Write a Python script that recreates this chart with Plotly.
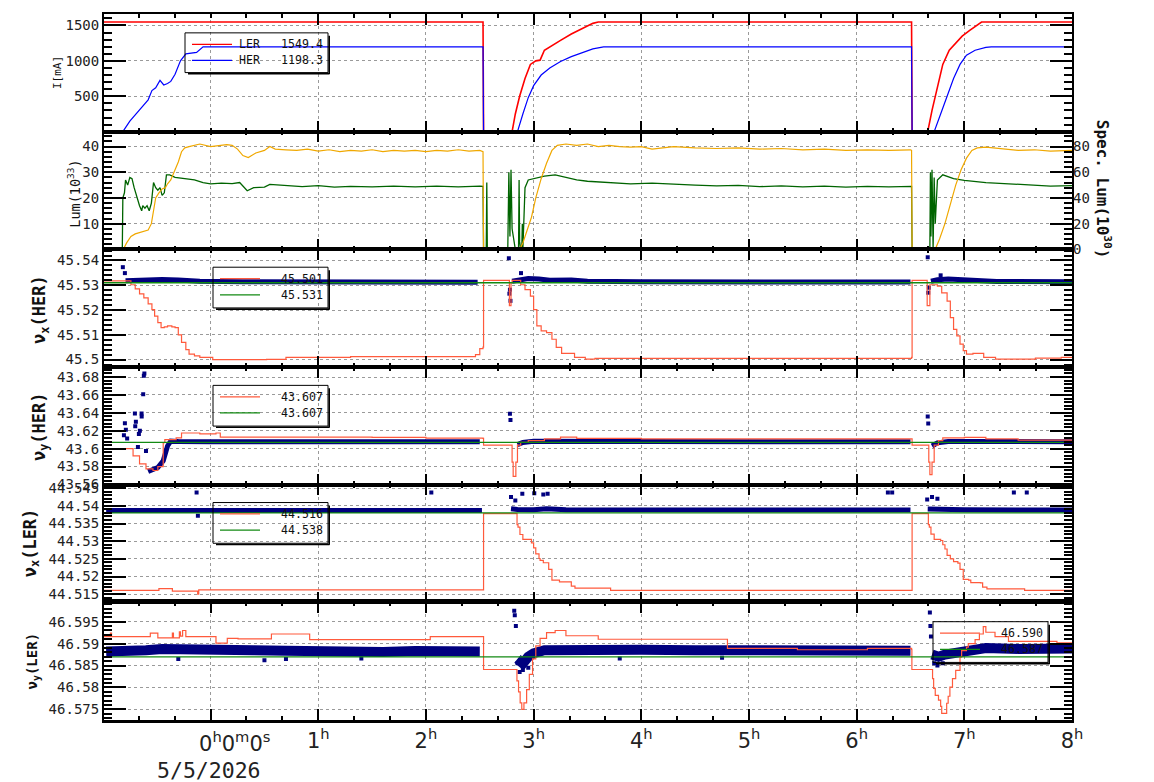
import plotly.graph_objects as go

# ---------------- DATA (time in hours from 0h0m0s 5/5/2026) ----------------
# Panel 1: beam currents I [mA]
ler_current = [(-0.99, 1549), (2.530, 1549), (2.535, 0), (2.800, 0), (2.830, 250), (2.870, 500),
               (2.920, 750), (2.970, 950), (3.020, 1000), (3.060, 1010), (3.100, 1150), (3.150, 1200),
               (3.250, 1290), (3.350, 1380), (3.450, 1450), (3.550, 1530), (3.600, 1549), (6.510, 1549),
               (6.515, 0), (6.660, 0), (6.700, 300), (6.750, 650), (6.800, 950), (6.860, 1150),
               (6.920, 1250), (6.980, 1350), (7.050, 1430), (7.120, 1500), (7.160, 1549), (8.000, 1549)]
her_current = [(-0.99, 0), (-0.815, 0), (-0.75, 150), (-0.68, 270), (-0.62, 380), (-0.58, 450),
               (-0.545, 580), (-0.51, 620), (-0.47, 725), (-0.435, 660), (-0.40, 680), (-0.37, 710),
               (-0.33, 810), (-0.28, 1000), (-0.23, 1100), (-0.13, 1120), (-0.07, 1198), (2.53, 1198),
               (2.535, 0), (2.85, 0), (2.90, 250), (2.95, 480), (3.00, 650), (3.07, 800), (3.15, 900),
               (3.25, 990), (3.35, 1060), (3.45, 1120), (3.55, 1170), (3.65, 1198), (6.51, 1198),
               (6.515, 0), (6.72, 0), (6.78, 250), (6.84, 500), (6.90, 750), (6.96, 950), (7.02, 1080),
               (7.10, 1150), (7.20, 1190), (7.25, 1198), (8.0, 1198)]
cur_legend_names = ["LER", "HER"]
cur_legend_values = ["1549.4", "1198.3"]

# Panel 2: luminosity Lum (10^33, left) and specific luminosity (10^30, right)
lum = [(-0.99, 0), (-0.82, 0), (-0.815, 20), (-0.80, 22), (-0.79, 27), (-0.77, 25), (-0.75, 28),
       (-0.73, 27.5), (-0.71, 24), (-0.69, 21), (-0.66, 17), (-0.64, 15), (-0.63, 17), (-0.61, 16),
       (-0.59, 17), (-0.57, 15), (-0.55, 18), (-0.53, 26), (-0.51, 24), (-0.49, 23), (-0.47, 24),
       (-0.45, 21), (-0.43, 22), (-0.41, 29), (-0.38, 29), (-0.33, 28), (-0.25, 27.5), (-0.15, 27),
       (-0.07, 26), (0.0, 25.5), (0.1, 25.8), (0.2, 25.6), (0.27, 26), (0.32, 24), (0.34, 22.8),
       (0.4, 24), (0.5, 24.2), (0.55, 25.3), (0.7, 24.8), (0.85, 24.4), (1.0, 24.8), (1.15, 24.2),
       (1.3, 24.5), (1.5, 24.3), (1.7, 24.6), (1.9, 24.3), (2.1, 24.6), (2.3, 24.3), (2.5, 24.6),
       (2.53, 24.5), (2.535, 0), (2.56, 0), (2.565, 26), (2.57, 0), (2.76, 0), (2.77, 30), (2.78, 5),
       (2.79, 31), (2.80, 8), (2.83, 0), (2.86, 0), (2.865, 27), (2.87, 3), (2.88, 0), (2.89, 0),
       (2.895, 10), (2.90, 0), (2.92, 24), (2.95, 27), (3.0, 27.5), (3.1, 28.5), (3.2, 29), (3.3, 28),
       (3.4, 27), (3.5, 26.5), (3.7, 26), (3.9, 25.5), (4.1, 25.8), (4.3, 25.3), (4.5, 25), (4.7, 24.7),
       (4.9, 24.9), (5.1, 24.4), (5.3, 24.7), (5.5, 24.3), (5.7, 24.6), (5.9, 24.2), (6.1, 24.5),
       (6.3, 24.3), (6.5, 24.6), (6.51, 24.5), (6.515, 0), (6.68, 0), (6.685, 30), (6.69, 5), (6.70, 31),
       (6.71, 0), (6.72, 28), (6.73, 10), (6.75, 27), (6.8, 29), (6.9, 27.5), (7.0, 26.8), (7.2, 26),
       (7.4, 25.5), (7.6, 25), (7.8, 24.6), (8.0, 24.8)]
spec_lum = [(-0.99, 0), (-0.81, 0), (-0.78, 5), (-0.74, 10), (-0.70, 12), (-0.66, 13), (-0.62, 14),
            (-0.58, 15), (-0.55, 20), (-0.53, 30), (-0.51, 40), (-0.48, 44), (-0.45, 47), (-0.42, 48),
            (-0.40, 51), (-0.37, 54), (-0.33, 62), (-0.30, 68), (-0.27, 76), (-0.24, 79), (-0.2, 80),
            (-0.15, 81), (-0.1, 82), (0.0, 80), (0.1, 81), (0.15, 81.5), (0.2, 81), (0.25, 78), (0.3, 73),
            (0.35, 71.5), (0.42, 75), (0.5, 77), (0.55, 80), (0.6, 78), (0.7, 77.5), (0.8, 77), (0.9, 78),
            (1.0, 76.5), (1.1, 77.5), (1.2, 76), (1.3, 77), (1.4, 76.5), (1.5, 77.5), (1.6, 76), (1.7, 77),
            (1.8, 76.5), (1.9, 77), (2.0, 76), (2.1, 77), (2.2, 76.5), (2.3, 77.5), (2.4, 76.5), (2.5, 77),
            (2.53, 76), (2.535, 0), (2.87, 0), (2.90, 5), (2.94, 15), (2.98, 25), (3.02, 40), (3.07, 55),
            (3.12, 67), (3.17, 77), (3.22, 81), (3.3, 82), (3.4, 81), (3.5, 82), (3.6, 80), (3.7, 81),
            (3.8, 80), (3.9, 79.5), (4.0, 80), (4.1, 78), (4.2, 79), (4.3, 80), (4.5, 79), (4.7, 78.5),
            (4.9, 79), (5.1, 78), (5.3, 78.5), (5.5, 77.5), (5.7, 78), (5.9, 77), (6.1, 77.5), (6.3, 77),
            (6.5, 77.5), (6.51, 77), (6.515, 0), (6.73, 0), (6.77, 8), (6.82, 20), (6.87, 35), (6.92, 50),
            (6.97, 62), (7.02, 71), (7.07, 77), (7.12, 79), (7.2, 79.5), (7.35, 78), (7.5, 77), (7.65, 77.5),
            (7.8, 76.5), (8.0, 77)]

# Panel 3: nu_x (HER)
nux_her_set = [(-0.99, 45.5318), (-0.77, 45.5318), (-0.74, 45.5302), (-0.70, 45.5285), (-0.66, 45.5265),
               (-0.62, 45.5249), (-0.58, 45.5225), (-0.545, 45.5202), (-0.52, 45.5175), (-0.49, 45.5149),
               (-0.46, 45.5129), (-0.43, 45.5132), (-0.40, 45.5136), (-0.36, 45.5132), (-0.33, 45.5129),
               (-0.30, 45.5100), (-0.27, 45.5069), (-0.23, 45.5040), (-0.20, 45.5022), (-0.15, 45.5015),
               (-0.10, 45.5009), (0.02, 45.5000), (0.52, 45.5001), (0.70, 45.5009), (1.30, 45.5012),
               (2.40, 45.5012), (2.46, 45.5020), (2.50, 45.5044), (2.53, 45.5050), (2.535, 45.5320),
               (2.77, 45.5320), (2.775, 45.5218), (2.79, 45.5310), (2.80, 45.5320), (2.85, 45.5320),
               (2.88, 45.5302), (2.92, 45.5282), (2.97, 45.5256), (3.00, 45.5202), (3.03, 45.5136),
               (3.07, 45.5116), (3.12, 45.5109), (3.17, 45.5082), (3.21, 45.5049), (3.26, 45.5025),
               (3.35, 45.5025), (3.38, 45.5009), (3.48, 45.5002), (3.57, 45.5005), (6.51, 45.5009),
               (6.515, 45.5320), (6.65, 45.5320), (6.655, 45.5218), (6.68, 45.5302), (6.73, 45.5302),
               (6.75, 45.5296), (6.79, 45.5269), (6.84, 45.5236), (6.87, 45.5169), (6.90, 45.5122),
               (6.93, 45.5096), (6.96, 45.5062), (6.99, 45.5036), (7.02, 45.5022), (7.08, 45.5025),
               (7.18, 45.5009), (7.29, 45.5002), (7.66, 45.5006), (7.90, 45.5009), (8.0, 45.5009)]
nux_her_ref = 45.531
nux_her_meas = [(-0.79, 45.5318), (-0.7, 45.532), (-0.6, 45.5323), (-0.45, 45.5323), (-0.3, 45.5321),
                (-0.1, 45.5316), (0.3, 45.5314), (0.8, 45.5313), (1.5, 45.5314), (2.0, 45.5313),
                (2.48, 45.5312), (2.49, None), (2.80, 45.5316), (2.86, 45.5322), (2.95, 45.5327),
                (3.05, 45.5325), (3.15, 45.532), (3.35, 45.5321), (3.5, 45.5316), (4.0, 45.5314),
                (5.0, 45.5313), (6.0, 45.5313), (6.5, 45.5313), (6.51, None), (6.69, 45.5316),
                (6.75, 45.5322), (6.85, 45.5325), (6.95, 45.5323), (7.1, 45.5318), (7.3, 45.5315),
                (8.0, 45.5314)]
nux_her_out = [(-0.815, 45.5373), (-0.796, 45.5349), (2.77, 45.5409), (2.883, 45.5349), (2.78, 45.5282),
               (2.775, 45.5266), (2.785, 45.5237), (6.66, 45.5413), (6.78, 45.5340), (6.665, 45.5270),
               (6.67, 45.5290)]
nux_her_legend = ["45.501", "45.531"]

# Panel 4: nu_y (HER)
nuy_her_set = [(-0.99, 43.600), (-0.78, 43.600), (-0.72, 43.592), (-0.66, 43.583), (-0.60, 43.5775),
               (-0.535, 43.5756), (-0.49, 43.580), (-0.44, 43.6066), (-0.425, 43.610), (-0.32, 43.612),
               (-0.27, 43.6175), (-0.10, 43.6165), (0.05, 43.6175), (0.09, 43.6128), (1.5, 43.6125),
               (2.0, 43.6117), (2.53, 43.6115), (2.535, 43.604), (2.79, 43.604), (2.80, 43.585),
               (2.81, 43.569), (2.835, 43.585), (2.85, 43.604), (2.88, 43.607), (2.95, 43.609),
               (3.1, 43.611), (3.25, 43.613), (3.4, 43.6115), (4.0, 43.611), (6.51, 43.611),
               (6.515, 43.604), (6.66, 43.604), (6.67, 43.585), (6.68, 43.571), (6.70, 43.585),
               (6.72, 43.604), (6.76, 43.609), (6.8, 43.612), (7.0, 43.6125), (7.2, 43.611),
               (7.5, 43.6095), (8.0, 43.6095)]
nuy_her_ref = 43.607
nuy_her_meas = [(-0.58, 43.5745), (-0.535, 43.5765), (-0.49, 43.579), (-0.44, 43.5865), (-0.40, 43.603),
                (-0.37, 43.6084), (-0.3, 43.608), (0.0, 43.6078), (0.5, 43.6077), (1.0, 43.6077),
                (1.5, 43.6078), (2.0, 43.6077), (2.5, 43.6077), (2.51, None), (2.85, 43.6045),
                (2.9, 43.607), (3.0, 43.6082), (3.5, 43.6079), (4.5, 43.6079), (5.5, 43.6078),
                (6.5, 43.6077), (6.51, None), (6.70, 43.603), (6.75, 43.6065), (6.85, 43.608),
                (7.2, 43.6078), (8.0, 43.6078)]
nuy_her_out = [(-0.796, 43.6285), (-0.787, 43.621), (-0.805, 43.615), (-0.775, 43.6114), (-0.703, 43.6394),
               (-0.694, 43.630), (-0.70, 43.625), (-0.675, 43.602), (-0.666, 43.6164), (-0.657, 43.620),
               (-0.641, 43.6394), (-0.64, 43.636), (-0.62, 43.6815), (-0.615, 43.684), (-0.626, 43.6607),
               (-0.60, 43.5975), (2.78, 43.639), (2.785, 43.632), (6.66, 43.636), (6.665, 43.628)]
nuy_her_legend = ["43.607", "43.607"]

# Panel 5: nu_x (LER)
nux_ler_set = [(-0.99, 44.5161), (-0.48, 44.5166), (-0.355, 44.5159), (-0.12, 44.5150), (-0.11, 44.5162),
               (2.53, 44.5162), (2.535, 44.5378), (2.84, 44.5378), (2.846, 44.5347), (2.855, 44.5340),
               (2.873, 44.5319), (2.90, 44.5305), (2.96, 44.5305), (2.98, 44.5295), (3.00, 44.5281),
               (3.02, 44.5264), (3.05, 44.5251), (3.06, 44.5246), (3.09, 44.5239), (3.13, 44.5239),
               (3.14, 44.5220), (3.17, 44.5190), (3.23, 44.5190), (3.24, 44.5185), (3.34, 44.5185),
               (3.35, 44.5173), (3.384, 44.5167), (3.709, 44.5167), (3.715, 44.5161), (6.51, 44.5161),
               (6.515, 44.5378), (6.66, 44.5378), (6.666, 44.5347), (6.675, 44.5340), (6.69, 44.5320),
               (6.72, 44.5305), (6.78, 44.5302), (6.80, 44.5290), (6.82, 44.5278), (6.84, 44.5260),
               (6.87, 44.5250), (6.90, 44.5242), (6.94, 44.5238), (6.96, 44.5220), (6.99, 44.5192),
               (7.04, 44.5190), (7.06, 44.5183), (7.15, 44.5182), (7.17, 44.5170), (7.21, 44.5165),
               (7.55, 44.5165), (7.56, 44.5161), (8.0, 44.5161)]
nux_ler_ref = 44.538
nux_ler_meas = [(-0.97, 44.5387), (0.0, 44.5387), (1.0, 44.5388), (2.0, 44.5387), (2.52, 44.5387),
                (2.53, None), (2.79, 44.5392), (2.85, 44.5390), (3.0, 44.5389), (3.12, 44.5392),
                (3.3, 44.5389), (4.5, 44.5388), (6.5, 44.5388), (6.51, None), (6.66, 44.5391),
                (6.8, 44.5390), (7.0, 44.5389), (8.0, 44.5388)]
nux_ler_out = [(-0.13, 44.5438), (-0.118, 44.5372), (2.05, 44.5438), (6.29, 44.5438), (6.33, 44.5438),
               (7.46, 44.5438), (7.58, 44.5438), (2.79, 44.5425), (2.83, 44.5415), (2.895, 44.5434),
               (3.006, 44.5436), (3.09, 44.5432), (3.13, 44.5434), (6.655, 44.5418), (6.70, 44.5425),
               (6.75, 44.5420)]
nux_ler_legend = ["44.516", "44.538"]

# Panel 6: nu_y (LER)
nuy_ler_set = [(-0.99, 46.5916), (-0.93, 46.5924), (-0.92, 46.5916), (-0.56, 46.5924), (-0.49, 46.5913),
               (-0.355, 46.5924), (-0.345, 46.5913), (-0.29, 46.5927), (-0.28, 46.5917), (-0.26, 46.5930),
               (-0.23, 46.5916), (0.05, 46.5901), (0.155, 46.5912), (0.255, 46.5911), (0.47, 46.5911),
               (0.565, 46.5922), (0.92, 46.5909), (2.04, 46.5916), (2.53, 46.5916), (2.535, 46.5841),
               (2.83, 46.5841), (2.845, 46.5815), (2.86, 46.5790), (2.875, 46.5765), (2.89, 46.5750),
               (2.91, 46.5765), (2.935, 46.5795), (2.96, 46.5830), (2.99, 46.5865), (3.02, 46.5895),
               (3.06, 46.5912), (3.12, 46.5925), (3.20, 46.5930), (3.3, 46.5918), (3.6, 46.5910),
               (4.8, 46.5889), (5.45, 46.5886), (6.1, 46.5889), (6.51, 46.5887), (6.513, 46.5841),
               (6.705, 46.5820), (6.715, 46.5798), (6.73, 46.5782), (6.76, 46.5771), (6.78, 46.5757),
               (6.79, 46.5741), (6.836, 46.5764), (6.85, 46.5780), (6.866, 46.5801), (6.89, 46.5820),
               (6.92, 46.5839), (6.96, 46.5869), (6.975, 46.5884), (7.02, 46.5892), (7.037, 46.5900),
               (7.10, 46.5909), (7.14, 46.5922), (7.176, 46.5939), (7.20, 46.5926), (7.285, 46.5916),
               (7.41, 46.5905), (7.86, 46.5902), (8.0, 46.5902)]
nuy_ler_ref = 46.587
nuy_ler_meas = [(-0.97, 46.5882), (-0.8, 46.5881), (-0.6, 46.5885), (-0.45, 46.5888), (-0.3, 46.5887),
                (-0.1, 46.5884), (0.1, 46.5882), (0.4, 46.5885), (0.7, 46.5884), (1.0, 46.5882),
                (1.3, 46.5883), (1.6, 46.5881), (1.9, 46.5883), (2.2, 46.5882), (2.5, 46.5882),
                (2.51, None), (2.85, 46.5865), (2.9, 46.5855), (2.95, 46.5870), (3.0, 46.5878),
                (3.1, 46.5885), (3.3, 46.5886), (3.6, 46.5888), (4.0, 46.5886), (4.5, 46.5885),
                (5.0, 46.5885), (5.5, 46.5884), (6.0, 46.5884), (6.5, 46.5884), (6.51, None),
                (6.70, 46.5875), (6.76, 46.5870), (6.82, 46.5875), (6.9, 46.5878), (7.0, 46.5887),
                (7.2, 46.5890), (7.5, 46.5888), (8.0, 46.5889)]
nuy_ler_out = [(2.82, 46.5975), (2.825, 46.5965), (2.835, 46.5940), (2.85, 46.5855), (2.87, 46.5835),
               (2.90, 46.5840), (2.95, 46.5845), (6.68, 46.5971), (6.685, 46.5940), (6.69, 46.5916),
               (6.72, 46.5855), (6.75, 46.5850), (6.80, 46.5855), (-0.3, 46.5865), (0.5, 46.5862),
               (0.7, 46.5865), (1.4, 46.5866), (3.8, 46.5866), (4.75, 46.5868)]
nuy_ler_legend = ["46.590", "46.587"]

# Axis ticks
hour_ticks = [0, 1, 2, 3, 4, 5, 6, 7, 8]
hour_labels = ["", "1<sup>h</sup>", "2<sup>h</sup>", "3<sup>h</sup>", "4<sup>h</sup>", "5<sup>h</sup>",
               "6<sup>h</sup>", "7<sup>h</sup>", "8<sup>h</sup>"]
cur_ticks = [500, 1000, 1500]
lum_ticks = [10, 20, 30, 40]
slum_ticks = [0, 20, 40, 60, 80]
nux_her_ticks = [45.50, 45.51, 45.52, 45.53, 45.54]
nux_her_labels = ["45.5", "45.51", "45.52", "45.53", "45.54"]
nuy_her_ticks = [43.56, 43.58, 43.60, 43.62, 43.64, 43.66, 43.68]
nuy_her_labels = ["43.56", "43.58", "43.6", "43.62", "43.64", "43.66", "43.68"]
nux_ler_ticks = [44.515, 44.520, 44.525, 44.530, 44.535, 44.540, 44.545]
nux_ler_labels = ["44.515", "44.52", "44.525", "44.53", "44.535", "44.54", "44.545"]
nuy_ler_ticks = [46.575, 46.580, 46.585, 46.590, 46.595]
nuy_ler_labels = ["46.575", "46.58", "46.585", "46.59", "46.595"]

# ---------------- STYLE ----------------
W, H = 1154, 782
L, R, TOP, BOT = 104, 82, 9, 62
PW, PH = W - L - R, H - TOP - BOT
T_RANGE = [-0.99, 8.0]
NAVY = "#00007f"
TUNE_RED = "#ff5a3c"
TUNE_GREEN = "#138a13"
GRID = "#9a9a9a"
MONO = "DejaVu Sans Mono"
TICKFONT = dict(family=MONO, size=14, color="#222")


def split(pts):
    return [p[0] for p in pts], [p[1] for p in pts]


def px_x(px):
    return (px - L) / PW


def px_y(py):
    return (H - BOT - py) / PH


fig = go.Figure()


def axes(k):
    return ("x" if k == 1 else f"x{k}"), ("y" if k == 1 else f"y{k}")


def add_line(pts, color, width, k, shape="linear", yaxis=None):
    x, y = split(pts)
    xa, ya = axes(k)
    fig.add_trace(go.Scatter(x=x, y=y, mode="lines", line=dict(color=color, width=width, shape=shape),
                             xaxis=xa, yaxis=yaxis or ya, showlegend=False, connectgaps=False,
                             hoverinfo="skip"))


def add_pts(pts, k, size=4):
    x, y = split(pts)
    xa, ya = axes(k)
    fig.add_trace(go.Scatter(x=x, y=y, mode="markers", marker=dict(symbol="square", size=size, color=NAVY,
                             line=dict(width=0)), xaxis=xa, yaxis=ya, showlegend=False, hoverinfo="skip"))


# Panel 1
add_line(ler_current, "#ff0000", 1.6, 1)
add_line(her_current, "#0000ff", 1.2, 1)
# Panel 2
add_line(spec_lum, "#f0a800", 1.2, 2, yaxis="y7")
add_line(lum, "#006400", 1.3, 2)
# Panels 3..6
tune_panels = [
    (3, nux_her_meas, nux_her_out, nux_her_set, nux_her_ref, 5),
    (4, nuy_her_meas, nuy_her_out, nuy_her_set, nuy_her_ref, 5),
    (5, nux_ler_meas, nux_ler_out, nux_ler_set, nux_ler_ref, 5),
    (6, nuy_ler_meas, nuy_ler_out, nuy_ler_set, nuy_ler_ref, 10),
]
for k, meas, out, setp, ref, bw in tune_panels:
    add_line(meas, NAVY, bw, k)
    add_pts(out, k)
    add_line(setp, TUNE_RED, 1.2, k, shape="hv")
    add_line([(T_RANGE[0], ref), (T_RANGE[1], ref)], TUNE_GREEN, 1.3, k)

layout = dict(width=W, height=H, margin=dict(l=L, r=R, t=TOP, b=BOT), plot_bgcolor="white",
              paper_bgcolor="white", showlegend=False)

xbase = dict(range=T_RANGE, showline=True, linewidth=1.5, linecolor="black", mirror="ticks",
             ticks="inside", ticklen=11, tickwidth=2, tickcolor="black", tickmode="array",
             tickvals=hour_ticks, ticktext=hour_labels, showgrid=True, gridcolor=GRID,
             griddash="3px,3px", gridwidth=1, zeroline=False, showticklabels=False,
             minor=dict(ticks="inside", ticklen=4, tickwidth=1.5, tickcolor="black", tickmode="linear",
                        tick0=0, dtick=1 / 3, showgrid=False))
for k in range(1, 7):
    xa, ya = axes(k)
    d = dict(xbase, anchor=ya)
    if k > 1:
        d["matches"] = "x"
    if k == 6:
        d["showticklabels"] = True
        d["linewidth"] = 2.5
        d["tickfont"] = dict(family="DejaVu Sans", size=21, color="#222")
    layout["xaxis" if k == 1 else f"xaxis{k}"] = d

y_specs = {
    1: ([0, 1662], cur_ticks, [str(v) for v in cur_ticks], 0, 100),
    2: ([0, 45.8], lum_ticks, [str(v) for v in lum_ticks], 0, 2),
    3: ([45.497, 45.5445], nux_her_ticks, nux_her_labels, 45.5, 0.002),
    4: ([43.5598, 43.6912], nuy_her_ticks, nuy_her_labels, 43.56, 0.004),
    5: ([44.5127, 44.5460], nux_ler_ticks, nux_ler_labels, 44.515, 0.001),
    6: ([46.57258, 46.59942], nuy_ler_ticks, nuy_ler_labels, 46.575, 0.001),
}
for k, (rng, tv, tt, t0, mdt) in y_specs.items():
    xa, ya = axes(k)
    d = dict(domain=[1 - k / 6, 1 - (k - 1) / 6], anchor=xa, range=rng, showline=True, linewidth=2,
             linecolor="black", mirror=(True if k == 2 else "ticks"), ticks="inside", ticklen=22,
             tickwidth=2, tickcolor="black", tickmode="array", tickvals=tv, ticktext=tt, showgrid=True,
             gridcolor=GRID, griddash="3px,3px", gridwidth=1, zeroline=False, tickfont=TICKFONT,
             minor=dict(ticks="inside", ticklen=8, tickwidth=1.5, tickcolor="black", tickmode="linear",
                        tick0=t0, dtick=mdt, showgrid=False))
    layout["yaxis" if k == 1 else f"yaxis{k}"] = d
layout["yaxis7"] = dict(overlaying="y2", side="right", anchor="x2", range=[0, 91.6], showline=False,
                        ticks="inside", ticklen=22, tickwidth=2, tickcolor="black", tickmode="array",
                        tickvals=slum_ticks, ticktext=[str(v) for v in slum_ticks], showgrid=False,
                        zeroline=False, tickfont=TICKFONT,
                        minor=dict(ticks="inside", ticklen=8, tickwidth=1.5, tickcolor="black",
                                   tickmode="linear", tick0=0, dtick=4, showgrid=False))

ann = []
shapes = []
LEGFONT = dict(family=MONO, size=11.6, color="#111")


def legend_box(left, top, rows, right=328, height=41):
    """rows: list of (color, label_or_None, value)"""
    bottom = top + height
    shapes.append(dict(type="rect", xref="paper", yref="paper", x0=px_x(left), x1=px_x(right),
                       y0=px_y(bottom), y1=px_y(top), line=dict(color="black", width=1),
                       fillcolor="rgba(0,0,0,0)"))
    # drop shadow (right and bottom edges)
    shapes.append(dict(type="line", xref="paper", yref="paper", x0=px_x(left + 3), x1=px_x(right + 1.5),
                       y0=px_y(bottom + 1.2), y1=px_y(bottom + 1.2), line=dict(color="black", width=1.6)))
    shapes.append(dict(type="line", xref="paper", yref="paper", x0=px_x(right + 1.2), x1=px_x(right + 1.2),
                       y0=px_y(top + 3), y1=px_y(bottom + 1.5), line=dict(color="black", width=1.6)))
    for i, (color, label, value) in enumerate(rows):
        ry = top + 11.5 + 16.3 * i
        shapes.append(dict(type="line", xref="paper", yref="paper", x0=px_x(left + 7), x1=px_x(left + 47),
                           y0=px_y(ry), y1=px_y(ry), line=dict(color=color, width=1.3)))
        if label:
            ann.append(dict(text=label, x=px_x(left + 52), y=px_y(ry), xref="paper", yref="paper",
                            xanchor="left", yanchor="middle", showarrow=False, font=LEGFONT))
        ann.append(dict(text=value, x=px_x(right - 49), y=px_y(ry), xref="paper", yref="paper",
                        xanchor="left", yanchor="middle", showarrow=False, font=LEGFONT))


legend_box(185, 28, [("#ff0000", cur_legend_names[0], cur_legend_values[0]),
                     ("#0000ff", cur_legend_names[1], cur_legend_values[1])], height=40)
legend_box(213, 264, [(TUNE_RED, None, nux_her_legend[0]), (TUNE_GREEN, None, nux_her_legend[1])])
legend_box(213, 383, [(TUNE_RED, None, nuy_her_legend[0]), (TUNE_GREEN, None, nuy_her_legend[1])])
legend_box(213, 501, [(TUNE_RED, None, nux_ler_legend[0]), (TUNE_GREEN, None, nux_ler_legend[1])])
legend_box(933, 621, [(TUNE_RED, None, nuy_ler_legend[0]), (TUNE_GREEN, None, nuy_ler_legend[1])],
           right=1048)


def title(text, xpx, ypx, size, angle=-90, bold=False):
    ann.append(dict(text=(f"<b>{text}</b>" if bold else text), x=px_x(xpx), y=px_y(ypx), xref="paper",
                    yref="paper", showarrow=False, textangle=angle, xanchor="center", yanchor="middle",
                    font=dict(family=MONO, size=size, color="#111")))


title("I[mA]", 57, 68.5, 11)
title("Lum(10<sup>33</sup>)", 74, 190, 13.5)
title("Spec. Lum(10<sup>30</sup>)", 1103, 185, 16, angle=90, bold=True)
title("\u03bd<sub>x</sub>(HER)", 41, 306, 17, bold=True)
title("\u03bd<sub>y</sub>(HER)", 40, 425, 17, bold=True)
title("\u03bd<sub>x</sub>(LER)", 31, 542, 17, bold=True)
title("\u03bd<sub>y</sub>(LER)", 33, 661, 14, bold=True)

ann.append(dict(text="0<sup>h</sup>0<sup>m</sup>0<sup>s</sup>", x=0, xref="x6", y=0, yref="paper",
                xanchor="left", yanchor="top", xshift=-14, yshift=-6, showarrow=False,
                font=dict(family="DejaVu Sans", size=21, color="#222")))
ann.append(dict(text="5/5/2026", x=0, xref="x6", y=0, yref="paper", xanchor="center", yanchor="top",
                xshift=-2, yshift=-36, showarrow=False, font=dict(family=MONO, size=21.5, color="#222")))
layout["annotations"] = ann
layout["shapes"] = shapes

fig.update_layout(**layout)
fig.write_html("out.html")
